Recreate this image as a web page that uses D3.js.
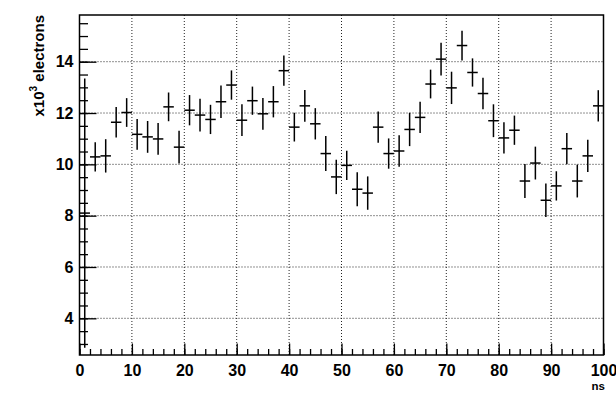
<!DOCTYPE html>
<html>
<head>
<meta charset="utf-8">
<script src="https://cdn.jsdelivr.net/npm/d3@7"></script>
<style>
  body { margin: 0; background: #fff; }
  text { font-family: "Liberation Sans", Arial, Helvetica, sans-serif; font-weight: bold; }
</style>
</head>
<body>
<div id="chart"></div>
<script>
// bin lower edges (ns), bin width 2
const binEdges = d3.range(0, 100, 2);
const binWidth = 2;
// content (x10^3 electrons)
const values = [8.1, 10.29, 10.33, 11.64, 12.02, 11.17, 11.07, 10.99, 12.24, 10.67,
  12.11, 11.92, 11.75, 12.44, 13.09, 11.72, 12.48, 11.97, 12.44, 13.65,
  11.45, 12.28, 11.58, 10.42, 9.51, 9.96, 9.03, 8.88, 11.45, 10.42,
  10.52, 11.36, 11.83, 13.13, 14.10, 12.98, 14.63, 13.58, 12.76, 11.70,
  11.03, 11.33, 9.35, 10.05, 8.60, 9.16, 10.61, 9.35, 10.33, 12.28];
const errors = [5.25, 0.57, 0.65, 0.59, 0.56, 0.60, 0.62, 0.62, 0.56, 0.64,
  0.59, 0.64, 0.57, 0.63, 0.57, 0.62, 0.55, 0.62, 0.61, 0.59,
  0.56, 0.62, 0.61, 0.68, 0.67, 0.57, 0.66, 0.65, 0.61, 0.59,
  0.61, 0.65, 0.61, 0.56, 0.64, 0.63, 0.58, 0.55, 0.61, 0.64,
  0.61, 0.57, 0.66, 0.64, 0.65, 0.57, 0.61, 0.64, 0.63, 0.61];
const xTicks = d3.range(0, 101, 10);
const xMinor = d3.range(0, 101, 2);
const yTicks = [4, 6, 8, 10, 12, 14];
const yMinor = d3.range(3, 15.6, 0.5);

function init() {
    let margin = { top: 15, right: 12.5, bottom: 38, left: 79.5 },
        width = 616 - margin.left - margin.right,
        height = 393 - margin.top - margin.bottom;

    let svg = d3.select("#chart")
        .append("svg")
        .attr("width", 616)
        .attr("height", 393);

    let g = svg.append("g")
        .attr("transform", "translate(" + margin.left + "," + margin.top + ")");

    let x = d3.scaleLinear().domain([0, 100]).range([0, width]);
    let y = d3.scaleLinear().domain([2.57, 15.82]).range([height, 0]);

    // dotted grid at major ticks
    g.selectAll(".gx")
        .data(xTicks.slice(1, -1))
        .join("line")
        .attr("x1", d => x(d)).attr("x2", d => x(d))
        .attr("y1", 0).attr("y2", height)
        .attr("stroke", "#222").attr("stroke-width", 1)
        .attr("stroke-dasharray", "1,2");
    g.selectAll(".gy")
        .data(yTicks)
        .join("line")
        .attr("x1", 0).attr("x2", width)
        .attr("y1", d => y(d)).attr("y2", d => y(d))
        .attr("stroke", "#222").attr("stroke-width", 1)
        .attr("stroke-dasharray", "1,2");

    // axes
    let xMinorAxis = g.append("g")
        .attr("transform", "translate(0," + height + ")")
        .call(d3.axisBottom(x).tickValues(xMinor).tickSize(-6).tickFormat(""));
    let xAxis = g.append("g")
        .attr("transform", "translate(0," + height + ")")
        .call(d3.axisBottom(x).tickValues(xTicks).tickSize(-11.5).tickPadding(10).tickFormat(d3.format("d")));
    let yMinorAxis = g.append("g")
        .call(d3.axisLeft(y).tickValues(yMinor).tickSize(-8.5).tickFormat(""));
    let yAxis = g.append("g")
        .call(d3.axisLeft(y).tickValues(yTicks).tickSize(-17).tickPadding(6).tickFormat(d3.format("d")));

    [xMinorAxis, xAxis, yMinorAxis, yAxis].forEach(a => {
        a.select(".domain").remove();
        a.selectAll(".tick line").attr("stroke", "#000").attr("stroke-width", 1.3);
        a.selectAll("text").attr("font-size", 16).attr("fill", "#000")
            .style("font-family", "'Liberation Sans', Arial, sans-serif").style("font-weight", "bold");
    });

    // error bars
    let bars = g.append("g")
        .selectAll("g")
        .data(binEdges.map((e, i) => ({ lo: e, v: values[i], err: errors[i] })))
        .join("g");
    bars.append("line")
        .attr("x1", d => x(d.lo)).attr("x2", d => x(d.lo + binWidth))
        .attr("y1", d => y(d.v)).attr("y2", d => y(d.v))
        .attr("stroke", "#000").attr("stroke-width", 1.5);
    bars.append("line")
        .attr("x1", d => x(d.lo + binWidth / 2)).attr("x2", d => x(d.lo + binWidth / 2))
        .attr("y1", d => y(d.v - d.err)).attr("y2", d => y(d.v + d.err))
        .attr("stroke", "#000").attr("stroke-width", 1.5);

    // frame
    g.append("rect")
        .attr("x", 0).attr("y", 0)
        .attr("width", width).attr("height", height)
        .attr("fill", "none").attr("stroke", "#000").attr("stroke-width", 1.5);

    // axis titles
    let yl = svg.append("text")
        .attr("transform", "translate(44," + margin.top + ") rotate(-90)")
        .attr("text-anchor", "end")
        .attr("font-size", 15);
    yl.append("tspan").text("x10");
    yl.append("tspan").attr("font-size", 10).attr("dy", -7).text("3");
    yl.append("tspan").attr("dy", 7).text(" electrons");

    svg.append("text")
        .attr("x", 605).attr("y", 390.4)
        .attr("text-anchor", "end")
        .attr("font-size", 11.5)
        .text("ns");
}

window.addEventListener('load', init);
</script>
</body>
</html>
